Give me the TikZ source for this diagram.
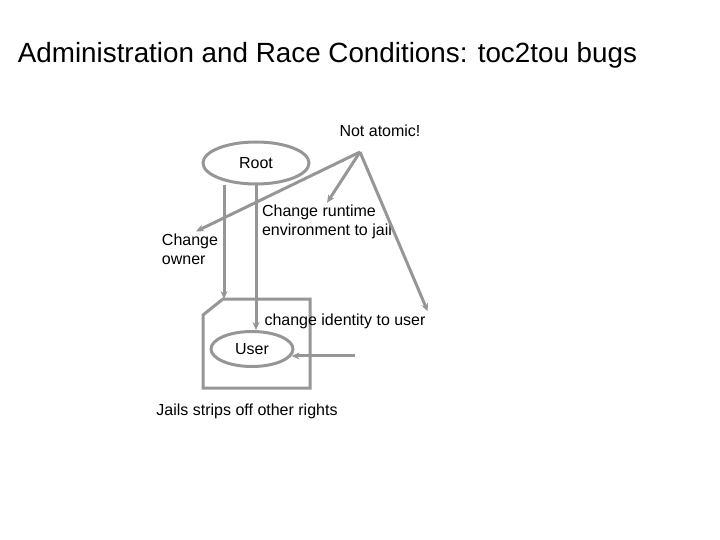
\documentclass[tikz,border=0pt]{standalone}
\usepackage{fontspec}
\setmainfont{Liberation Sans}
\usetikzlibrary{arrows.meta,shapes.geometric}
\definecolor{linegray}{RGB}{150,150,150}
\tikzset{
  arrow/.style={draw=linegray, line width=3pt, -{Stealth[length=8pt,width=7pt]}},
  oval/.style={draw=linegray, line width=3pt, ellipse, inner sep=0pt},
  label/.style={font=\fontsize{16}{19}\selectfont, align=left, inner sep=2pt}
}
\begin{document}
\begin{tikzpicture}[x=1pt, y=-1pt]
\useasboundingbox (0,0) rectangle (720,540);
\node (title) at (327.5,55)[font=\fontsize{27.8}{33}\selectfont]{Administration and Race Conditions: toc2tou bugs};
% states
\node (root) at (256,163)[oval, minimum width=106pt, minimum height=42pt, label]{Root};
\node (user) at (252,349)[oval, minimum width=82pt, minimum height=35pt, label]{User};
% the jail
\draw[linegray, line width=3pt] (223,299) -- (310,299) -- (310,388) -- (203,388) -- (203,315) -- cycle;
\coordinate (jailcorner) at (224,299);
% texts
\node (notatomic) at (380,131)[label]{Not atomic!};
\coordinate (apex) at (360,152);
\node (chowner) at (190,249)[label]{Change\\owner};
\node (chenv) at (327,222)[label]{Change runtime\\environment to jail};
\node (chid) at (345,321)[label]{change identity to user};
\node (jails) at (247,411)[label]{Jails strips off other rights};
\coordinate (feed) at (355,355);
% arrows
\draw[arrow] (root.south -| jailcorner) -- (jailcorner);
\draw[arrow] (root.south) -- (root.south |- user.north);
\draw[arrow] (user.-10 -| feed) -- (user.-10);
\draw[arrow] (apex) -- ([xshift=6pt]chowner.north);
\draw[arrow] (apex) -- (chenv.north);
\draw[arrow] (apex) -- (chid.north east);
\end{tikzpicture}
\end{document}
